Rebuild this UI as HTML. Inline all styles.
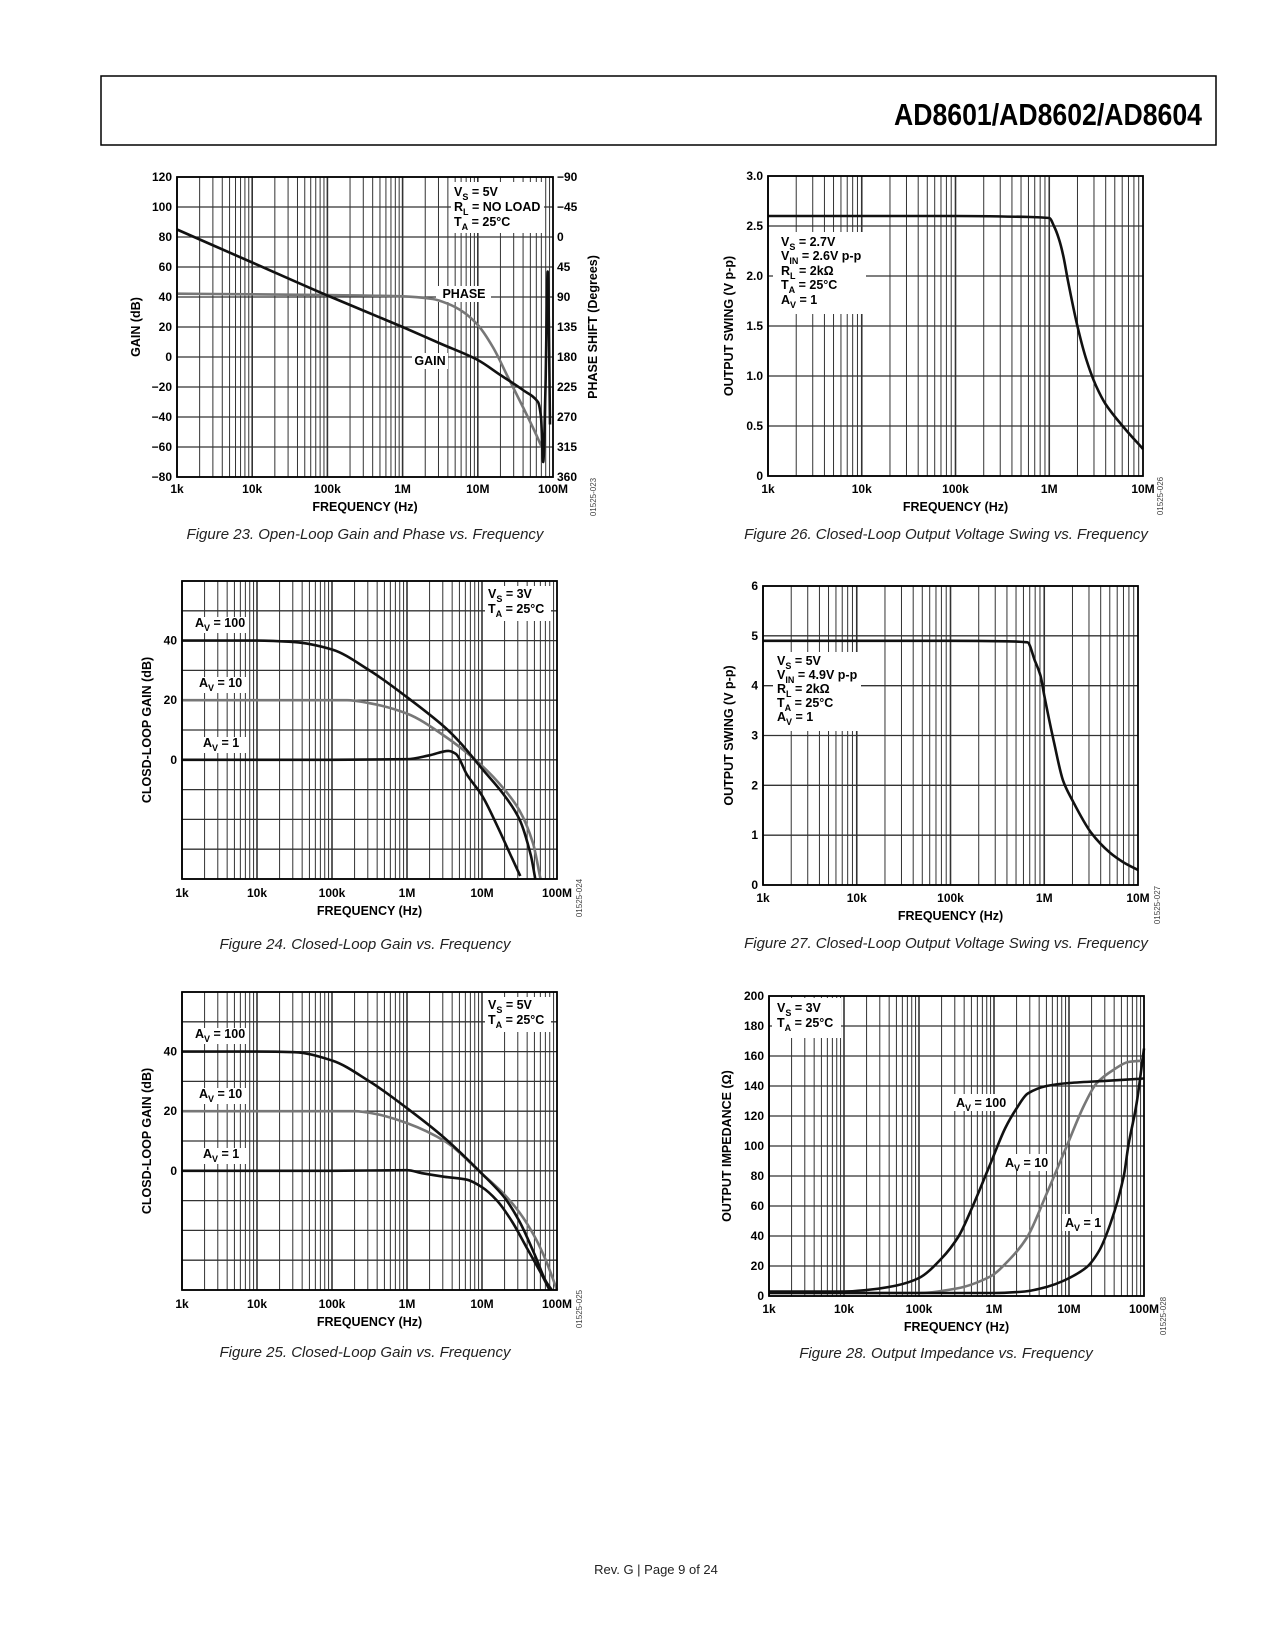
<!DOCTYPE html>
<html><head><meta charset="utf-8"><title>AD8601/AD8602/AD8604 page 9</title>
<style>
html,body{margin:0;padding:0;background:#fff;}
svg{display:block;font-family:"Liberation Sans",Arial,sans-serif;}
.tk{font-size:12px;font-weight:bold;fill:#000;}
.tt{font-size:12.5px;font-weight:bold;fill:#000;}
.lg{font-size:12.5px;font-weight:bold;fill:#000;}
.cap{font-size:15px;font-style:italic;fill:#222;}
.id{font-size:8px;fill:#444;}
</style></head>
<body>
<svg id="page" width="1275" height="1650" viewBox="0 0 1275 1650" xmlns="http://www.w3.org/2000/svg">
<rect x="0" y="0" width="1275" height="1650" fill="#fff"/>
<g>
<rect x="101" y="76" width="1115" height="69" fill="none" stroke="#000" stroke-width="1.5"/>
<text x="1202" y="125" text-anchor="end" font-size="31" font-weight="bold" textLength="308" lengthAdjust="spacingAndGlyphs">AD8601/AD8602/AD8604</text>
</g>
<g id="charts"></g>
<g>
<text class="cap" x="365" y="539" text-anchor="middle">Figure 23. Open-Loop Gain and Phase vs. Frequency</text>
<text class="cap" x="365" y="949" text-anchor="middle">Figure 24. Closed-Loop Gain vs. Frequency</text>
<text class="cap" x="365" y="1357" text-anchor="middle">Figure 25. Closed-Loop Gain vs. Frequency</text>
<text class="cap" x="946" y="539" text-anchor="middle">Figure 26. Closed-Loop Output Voltage Swing vs. Frequency</text>
<text class="cap" x="946" y="948" text-anchor="middle">Figure 27. Closed-Loop Output Voltage Swing vs. Frequency</text>
<text class="cap" x="946" y="1358" text-anchor="middle">Figure 28. Output Impedance vs. Frequency</text>
</g>
<text x="656" y="1574" text-anchor="middle" font-size="13" fill="#222">Rev. G | Page 9 of 24</text>
</svg>
<script>
// ---- data (x = log10 frequency in Hz) ----
const fig23GainX = [3, 4, 5, 6, 6.5, 7, 7.3, 7.6, 7.8, 7.84, 7.87, 7.9, 7.93, 7.945, 7.96];
const fig23GainY = [85, 63, 41, 20, 9, -2, -12, -22, -30, -40, -70, -20, 57, 20, -45];
const fig23PhaseX = [3, 4, 5, 6, 6.4, 6.6, 6.8, 7, 7.2, 7.4, 7.6, 7.75, 7.85];
const fig23PhaseY = [85, 86, 87, 89, 93, 100, 112, 132, 165, 210, 255, 290, 315];
const fig23GainTicks = [-80, -60, -40, -20, 0, 20, 40, 60, 80, 100, 120];
const fig23PhaseTicks = ["360", "315", "270", "225", "180", "135", "90", "45", "0", "\u221245", "\u221290"];

const fig24Av100X = [3, 4, 4.5, 5, 5.5, 6, 6.5, 6.7, 7, 7.3, 7.5, 7.65, 7.71];
const fig24Av100Y = [40, 40, 39.5, 37, 30, 21, 11, 6, -3, -12, -20, -32, -40];
const fig24Av10X = [3, 5, 5.2, 5.5, 6, 6.5, 7, 7.3, 7.5, 7.68, 7.78];
const fig24Av10Y = [20, 20, 20, 19, 15.5, 8, -2, -10, -17, -28, -40];
const fig24Av1X = [3, 5, 6, 6.3, 6.55, 6.65, 6.8, 7, 7.2, 7.4, 7.51];
const fig24Av1Y = [0, 0, 0.2, 1.5, 3, 2, -5, -12, -22, -33, -39];

const fig25Av100X = [3, 4, 4.5, 5, 5.5, 6, 6.5, 7, 7.3, 7.5, 7.7, 7.85, 7.93];
const fig25Av100Y = [40, 40, 39.8, 37, 30, 21, 11, -1, -9, -17, -28, -37, -40];
const fig25Av10X = [3, 5, 5.3, 5.6, 6, 6.5, 7, 7.3, 7.5, 7.7, 7.85, 8];
const fig25Av10Y = [20, 20, 20, 19, 16, 10, -1, -8, -14, -22, -30, -40];
const fig25Av1X = [3, 5, 6, 6.2, 6.5, 6.8, 7, 7.2, 7.4, 7.6, 7.8, 7.9];
const fig25Av1Y = [0, 0, 0.2, -0.8, -2, -3, -5.5, -10, -17, -26, -35, -40];

const fig26X = [3, 4, 5, 5.8, 6, 6.05, 6.1, 6.15, 6.2, 6.3, 6.4, 6.5, 6.6, 6.8, 7];
const fig26Y = [2.6, 2.6, 2.6, 2.59, 2.58, 2.5, 2.38, 2.2, 1.95, 1.5, 1.15, 0.9, 0.72, 0.48, 0.27];

const fig27X = [3, 4, 5, 5.6, 5.82, 5.9, 5.96, 6, 6.1, 6.2, 6.3, 6.5, 6.7, 6.85, 7];
const fig27Y = [4.9, 4.9, 4.9, 4.89, 4.87, 4.5, 4.2, 3.8, 2.9, 2.1, 1.7, 1.05, 0.65, 0.45, 0.3];

const fig28Av100X = [3, 4, 4.3, 4.7, 5, 5.3, 5.53, 5.7, 5.95, 6.15, 6.3, 6.45, 6.7, 7, 7.5, 8];
const fig28Av100Y = [3, 3, 4, 7, 12, 25, 40, 58, 88, 112, 125, 135, 140, 142, 143.5, 145];
const fig28Av10X = [3, 5, 5.5, 5.95, 6.2, 6.44, 6.7, 6.97, 7.2, 7.37, 7.6, 7.79, 8];
const fig28Av10Y = [2, 2, 5, 13, 24, 39, 68, 100, 127, 142, 151, 156, 157];
const fig28Av1X = [3, 6, 6.41, 6.7, 6.92, 7.23, 7.4, 7.55, 7.73, 7.79, 7.9, 8];
const fig28Av1Y = [2, 2, 3, 6, 10, 19, 30, 48, 80, 100, 128, 165];

const xLabels5 = ["1k", "10k", "100k", "1M", "10M", "100M"];
const xLabels4 = ["1k", "10k", "100k", "1M", "10M"];
const fig24YTicks = [0, 20, 40];
const fig26YTicks = ["0", "0.5", "1.0", "1.5", "2.0", "2.5", "3.0"];
const fig27YTicks = [0, 1, 2, 3, 4, 5, 6];
const fig28YTicks = [0, 20, 40, 60, 80, 100, 120, 140, 160, 180, 200];

const NS = "http://www.w3.org/2000/svg";
const root = document.getElementById("charts");
function mk(tag, attrs, parent) {
  const e = document.createElementNS(NS, tag);
  for (const k in attrs) e.setAttribute(k, attrs[k]);
  (parent || root).appendChild(e);
  return e;
}
function monoPath(px, py) {
  const n = px.length;
  if (n < 2) return "";
  const d = [], m = new Array(n);
  for (let i = 0; i < n - 1; i++) d.push((py[i + 1] - py[i]) / (px[i + 1] - px[i]));
  m[0] = d[0]; m[n - 1] = d[n - 2];
  for (let i = 1; i < n - 1; i++) {
    if (d[i - 1] * d[i] <= 0) m[i] = 0;
    else m[i] = 2 / (1 / d[i - 1] + 1 / d[i]);
  }
  let s = "M" + px[0].toFixed(1) + "," + py[0].toFixed(1);
  for (let i = 0; i < n - 1; i++) {
    const h = px[i + 1] - px[i];
    s += " C" + (px[i] + h / 3).toFixed(1) + "," + (py[i] + m[i] * h / 3).toFixed(1) + " " +
      (px[i + 1] - h / 3).toFixed(1) + "," + (py[i + 1] - m[i + 1] * h / 3).toFixed(1) + " " +
      px[i + 1].toFixed(1) + "," + py[i + 1].toFixed(1);
  }
  return s;
}
function subText(parent, x, y, parts, cls, anchor) {
  const t = mk("text", {x: x, y: y, class: cls, "text-anchor": anchor || "start"}, parent);
  parts.forEach(p => {
    const s = mk("tspan", {}, t);
    if (p[1]) { s.setAttribute("font-size", "9"); s.setAttribute("dy", "4"); }
    else if (p[2]) { s.setAttribute("dy", "-4"); }
    s.textContent = p[0];
  });
  return t;
}
function chart(cfg) {
  const g = mk("g", {});
  
  
  const L = cfg.L, R = cfg.R, T = cfg.T, B = cfg.B;
  const sx = v => L + (v - cfg.x0) / (cfg.x1 - cfg.x0) * (R - L);
  const sy = v => B - (v - cfg.y0) / (cfg.y1 - cfg.y0) * (B - T);
  cfg.sx = sx; cfg.sy = sy;
  const grid = mk("g", {stroke: "#333", "stroke-width": "1"}, g);
  
  
  for (let d = cfg.x0; d < cfg.x1; d++) {
    for (let k = 1; k <= 9; k++) {
      const x = sx(d + Math.log10(k));
      const ln = mk("line", {x1: x, x2: x, y1: T, y2: B, "stroke-width": k === 1 ? 1.6 : 1}, grid);
      
      
    }
  }
  for (let v = cfg.y0; v <= cfg.y1 + 1e-9; v += cfg.ystep) {
    const ln = mk("line", {x1: L, x2: R, y1: sy(v), y2: sy(v), "stroke-width": 1.3}, grid);
    
    
  }
  (cfg.boxes || []).forEach(b => {
    const r = mk("rect", {x: b[0], y: b[1], width: b[2], height: b[3], fill: "#fff"}, g);
    
    
  });
  cfg.series.forEach(s => {
    const px = s.x.map(sx), py = s.y.map(sy);
    const p = mk("path", {d: monoPath(px, py), fill: "none", stroke: s.color, "stroke-width": s.w || 2.6, "stroke-linejoin": "round"}, g);
    
    
  });
  const fr = mk("rect", {x: L, y: T, width: R - L, height: B - T, fill: "none", stroke: "#000", "stroke-width": 1.8}, g);
  
  
  cfg.xlabels.forEach((lab, i) => {
    const t = mk("text", {x: sx(cfg.x0 + i), y: cfg.xly, class: "tk", "text-anchor": "middle"}, g);
    
    
    t.textContent = lab;
  });
  const xt = mk("text", {x: (L + R) / 2, y: cfg.xly + 18, class: "tt", "text-anchor": "middle"}, g);
  
  
  xt.textContent = "FREQUENCY (Hz)";
  cfg.yticks.forEach((v, i) => {
    const val = cfg.yvals ? cfg.yvals[i] : v;
    const t = mk("text", {x: L - 5, y: sy(val) + 4, class: "tk", "text-anchor": "end"}, g);
    
    
    t.textContent = String(v).replace("-", "\u2212");
  });
  const yt = mk("text", {x: cfg.ytx, y: (T + B) / 2, class: "tt", "text-anchor": "middle", transform: `rotate(-90 ${cfg.ytx} ${(T + B) / 2})`}, g);
  
  
  yt.textContent = cfg.ytitle;
  const idx = cfg.idx, idy = cfg.idy;
  const id = mk("text", {x: idx, y: idy, class: "id", "text-anchor": "middle", transform: `rotate(-90 ${idx} ${idy})`}, g);
  
  
  id.textContent = cfg.id;
  (cfg.texts || []).forEach(tx => {
    const t = subText(g, tx[0], tx[1], tx[2], "lg", tx[3]);
    
    
  });
  return g;
}
const BLACK = "#111", GRAY = "#777";
const degToDb = deg => 40 - (deg - 90) / 2.25;

const c23 = {name: "chart-fig23-open-loop-gain-phase", L: 177, R: 553, T: 177, B: 477, x0: 3, x1: 8, y0: -80, y1: 120, ystep: 20,
  xlabels: xLabels5, xly: 493, yticks: fig23GainTicks, ytitle: "GAIN (dB)", ytx: 140, id: "01525-023", idx: 596, idy: 497,
  boxes: [[451, 182, 93, 51], [436, 286, 55, 16], [412, 353, 36, 16]],
  series: [
    {name: "phase-line", x: fig23PhaseX, y: fig23PhaseY.map(degToDb), color: GRAY},
    {name: "gain-line", x: fig23GainX, y: fig23GainY, color: BLACK}
  ],
  texts: [
    [454, 196, [["V"], ["S", 1], [" = 5V", 0, 1]]],
    [454, 211, [["R"], ["L", 1], [" = NO LOAD", 0, 1]]],
    [454, 226, [["T"], ["A", 1], [" = 25\u00b0C", 0, 1]]],
    [464, 298, [["PHASE"]], "middle"],
    [430, 365, [["GAIN"]], "middle"]
  ]};
const g23 = chart(c23);
fig23PhaseTicks.forEach((lab, i) => {
  const t = mk("text", {x: 557, y: c23.sy(-80 + i * 20) + 4, class: "tk"}, g23);
  
  
  t.textContent = lab;
});
const y2t = mk("text", {x: 597, y: 327, class: "tt", "text-anchor": "middle", transform: "rotate(-90 597 327)"}, g23);


y2t.textContent = "PHASE SHIFT (Degrees)";

chart({name: "chart-fig24-closed-loop-gain-3v", L: 182, R: 557, T: 581, B: 879, x0: 3, x1: 8, y0: -40, y1: 60, ystep: 10,
  xlabels: xLabels5, xly: 897, yticks: fig24YTicks, ytitle: "CLOSD-LOOP GAIN (dB)", ytx: 151, id: "01525-024", idx: 582, idy: 898,
  boxes: [[485, 586, 66, 35], [192, 617, 56, 16], [196, 677, 50, 16], [200, 737, 46, 16]],
  series: [
    {name: "av10-line", x: fig24Av10X, y: fig24Av10Y, color: GRAY},
    {name: "av100-line", x: fig24Av100X, y: fig24Av100Y, color: BLACK},
    {name: "av1-line", x: fig24Av1X, y: fig24Av1Y, color: BLACK}
  ],
  texts: [
    [488, 598, [["V"], ["S", 1], [" = 3V", 0, 1]]],
    [488, 613, [["T"], ["A", 1], [" = 25\u00b0C", 0, 1]]],
    [195, 627, [["A"], ["V", 1], [" = 100", 0, 1]]],
    [199, 687, [["A"], ["V", 1], [" = 10", 0, 1]]],
    [203, 747, [["A"], ["V", 1], [" = 1", 0, 1]]]
  ]});

chart({name: "chart-fig25-closed-loop-gain-5v", L: 182, R: 557, T: 992, B: 1290, x0: 3, x1: 8, y0: -40, y1: 60, ystep: 10,
  xlabels: xLabels5, xly: 1308, yticks: fig24YTicks, ytitle: "CLOSD-LOOP GAIN (dB)", ytx: 151, id: "01525-025", idx: 582, idy: 1309,
  boxes: [[485, 997, 66, 35], [192, 1028, 56, 16], [196, 1088, 50, 16], [200, 1148, 46, 16]],
  series: [
    {name: "av10-line", x: fig25Av10X, y: fig25Av10Y, color: GRAY},
    {name: "av100-line", x: fig25Av100X, y: fig25Av100Y, color: BLACK},
    {name: "av1-line", x: fig25Av1X, y: fig25Av1Y, color: BLACK}
  ],
  texts: [
    [488, 1009, [["V"], ["S", 1], [" = 5V", 0, 1]]],
    [488, 1024, [["T"], ["A", 1], [" = 25\u00b0C", 0, 1]]],
    [195, 1038, [["A"], ["V", 1], [" = 100", 0, 1]]],
    [199, 1098, [["A"], ["V", 1], [" = 10", 0, 1]]],
    [203, 1158, [["A"], ["V", 1], [" = 1", 0, 1]]]
  ]});

chart({name: "chart-fig26-output-swing-2v7", L: 768, R: 1143, T: 176, B: 476, x0: 3, x1: 7, y0: 0, y1: 3, ystep: 0.5,
  xlabels: xLabels4, xly: 493, yticks: fig26YTicks, yvals: [0, 0.5, 1, 1.5, 2, 2.5, 3], ytitle: "OUTPUT SWING (V p-p)", ytx: 733, id: "01525-026", idx: 1163, idy: 496,
  boxes: [[773, 232, 93, 82]],
  series: [{name: "swing-line", x: fig26X, y: fig26Y, color: BLACK}],
  texts: [
    [781, 246, [["V"], ["S", 1], [" = 2.7V", 0, 1]]],
    [781, 260, [["V"], ["IN", 1], [" = 2.6V p-p", 0, 1]]],
    [781, 275, [["R"], ["L", 1], [" = 2k\u03a9", 0, 1]]],
    [781, 289, [["T"], ["A", 1], [" = 25\u00b0C", 0, 1]]],
    [781, 304, [["A"], ["V", 1], [" = 1", 0, 1]]]
  ]});

chart({name: "chart-fig27-output-swing-5v", L: 763, R: 1138, T: 586, B: 885, x0: 3, x1: 7, y0: 0, y1: 6, ystep: 1,
  xlabels: xLabels4, xly: 902, yticks: fig27YTicks, ytitle: "OUTPUT SWING (V p-p)", ytx: 733, id: "01525-027", idx: 1160, idy: 905,
  boxes: [[773, 652, 88, 79]],
  series: [{name: "swing-line", x: fig27X, y: fig27Y, color: BLACK}],
  texts: [
    [777, 665, [["V"], ["S", 1], [" = 5V", 0, 1]]],
    [777, 679, [["V"], ["IN", 1], [" = 4.9V p-p", 0, 1]]],
    [777, 693, [["R"], ["L", 1], [" = 2k\u03a9", 0, 1]]],
    [777, 707, [["T"], ["A", 1], [" = 25\u00b0C", 0, 1]]],
    [777, 721, [["A"], ["V", 1], [" = 1", 0, 1]]]
  ]});

chart({name: "chart-fig28-output-impedance", L: 769, R: 1144, T: 996, B: 1296, x0: 3, x1: 8, y0: 0, y1: 200, ystep: 20,
  xlabels: xLabels5, xly: 1313, yticks: fig28YTicks, ytitle: "OUTPUT IMPEDANCE (\u03a9)", ytx: 731, id: "01525-028", idx: 1166, idy: 1316,
  boxes: [[772, 998, 69, 40], [953, 1094, 56, 17], [1002, 1154, 49, 17], [1062, 1214, 42, 17]],
  series: [
    {name: "av10-line", x: fig28Av10X, y: fig28Av10Y, color: GRAY},
    {name: "av100-line", x: fig28Av100X, y: fig28Av100Y, color: BLACK},
    {name: "av1-line", x: fig28Av1X, y: fig28Av1Y, color: BLACK}
  ],
  texts: [
    [777, 1012, [["V"], ["S", 1], [" = 3V", 0, 1]]],
    [777, 1027, [["T"], ["A", 1], [" = 25\u00b0C", 0, 1]]],
    [956, 1107, [["A"], ["V", 1], [" = 100", 0, 1]]],
    [1005, 1167, [["A"], ["V", 1], [" = 10", 0, 1]]],
    [1065, 1227, [["A"], ["V", 1], [" = 1", 0, 1]]]
  ]});
</script>
</body></html>
